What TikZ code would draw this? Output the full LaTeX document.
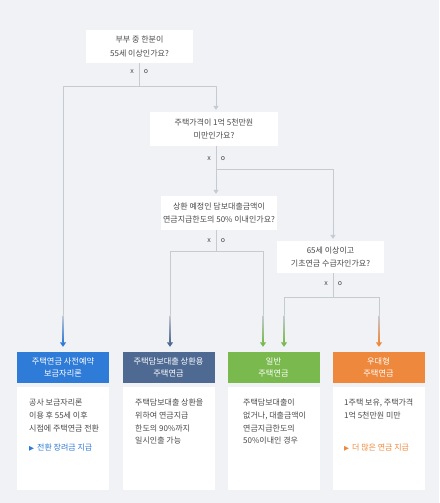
\documentclass[tikz,border=0pt]{standalone}
\usepackage{fontspec}
\setmainfont{Noto Sans CJK KR}
\newfontfamily\symf{DejaVu Sans}
\usetikzlibrary{arrows.meta,calc}
\definecolor{bg}{HTML}{F0F2F6}
\definecolor{ln}{HTML}{C6CBD2}
\definecolor{txt}{HTML}{4A4A4A}
\definecolor{cblue}{HTML}{2F7BD8}
\definecolor{cslate}{HTML}{4E6A93}
\definecolor{cgreen}{HTML}{7AB94E}
\definecolor{corange}{HTML}{EE883D}
\newcommand\fadeseg[3]{%
  \shade[top color=ln,bottom color=#2] ($(#1)+(-0.5,0)$) rectangle ($(#1)+(0.5,27)$);
  \draw[#2,line width=1pt,-{Triangle[width=6pt,length=4.5pt]},shorten >=5pt] ($(#1)+(0,26)$) -- (#3.north -| #1);}
\begin{document}
\begin{tikzpicture}[x=1pt,y=-1pt,
  qbox/.style={fill=white,inner sep=0pt,align=center,text=txt,font=\fontsize{8}{13.3}\selectfont},
  conn/.style={draw=ln,line width=1pt},
  gtip/.style={-{Triangle[width=5pt,length=4pt]},shorten >=2pt},
  lab/.style={text=txt,font=\fontsize{7}{7}\selectfont,inner sep=0pt},
  hbox/.style={inner sep=0pt,minimum width=92pt,minimum height=31pt,align=center,text=white,font=\fontsize{8.2}{11.5}\selectfont},
  bodytxt/.style={anchor=north west,inner sep=0pt,align=left,text=txt,font=\fontsize{8}{12.7}\selectfont},
  linktxt/.style={anchor=west,inner sep=0pt,font=\fontsize{8}{9}\selectfont}]
\fill[bg] (0,0) rectangle (439,503);
\useasboundingbox (0,0) rectangle (439,503);

% question boxes
\node[qbox,minimum width=107pt,minimum height=33pt] (q1) at (139.5,46.5) {부부 중 한분이\\55세 이상인가요?};
\node[qbox,minimum width=128pt,minimum height=34pt] (q2) at (214,129) {주택가격이 1억 5천만원\\미만인가요?};
\node[qbox,minimum width=116pt,minimum height=34pt] (q3) at (219,213) {상환 예정인 담보대출금액이\\연금지급한도의 50\% 이내인가요?};
\node[qbox,minimum width=107pt,minimum height=32pt] (q4) at (330.5,257) {65세 이상이고\\기초연금 수급자인가요?};

% x / o labels
\node[lab] (x1) at (132,72) {x}; \node[lab] (o1) at (146,72) {o};
\node[lab] (x2) at (209,159) {x}; \node[lab] (o2) at (223,159) {o};
\node[lab] (x3) at (209,241) {x}; \node[lab] (o3) at (223,241) {o};
\node[lab] (x4) at (326,284) {x}; \node[lab] (o4) at (340,284) {o};

% card headers
\node[hbox,fill=cblue] (c1) at (63,367.5) {주택연금 사전예약\\보금자리론};
\node[hbox,fill=cslate] (c2) at (168.5,367.5) {주택담보대출 상환용\\주택연금};
\node[hbox,fill=cgreen] (c3) at (273.5,367.5) {일반\\주택연금};
\node[hbox,fill=corange] (c4) at (378.5,367.5) {우대형\\주택연금};

% card bodies
\fill[white] (17,387) rectangle (109,490);
\fill[white] (122.5,387) rectangle (214.5,490);
\fill[white] (227.5,387) rectangle (319.5,490);
\fill[white] (332.5,387) rectangle (424.5,490);

\node[bodytxt] (t1) at (29,399) {공사 보금자리론\\이용 후 55세 이후\\시점에 주택연금 전환};
\node[linktxt,text=cblue] (l1) at (29,448) {{\symf\fontsize{6.5}{7}\selectfont ▶}\hspace{3pt}전환 장려금 지급};
\node[bodytxt] (t2) at (135,399) {주택담보대출 상환을\\위하여 연금지급\\한도의 90\%까지\\일시인출 가능};
\node[bodytxt] (t3) at (243,399) {주택담보대출이\\없거나, 대출금액이\\연금지급한도의\\50\%이내인 경우};
\node[bodytxt] (t4) at (344,399) {1주택 보유, 주택가격\\1억 5천만원 미만};
\node[linktxt,text=corange] (l4) at (344,448) {{\symf\fontsize{6.5}{7}\selectfont ▶}\hspace{3pt}더 많은 연금 지급};

% junction coordinates
\coordinate (j1) at (139,86); \coordinate (j1l) at (63,86); \coordinate (j1r) at (216,86);
\coordinate (j2) at (216,169); \coordinate (j2r) at (333,169);
\coordinate (j3) at (216,251); \coordinate (j3l) at (170,251); \coordinate (j3r) at (263,251);
\coordinate (j4) at (333,297); \coordinate (j4l) at (284,297); \coordinate (j4r) at (379,297);
\coordinate (f1) at (63,315); \coordinate (f2) at (170,315); \coordinate (f3) at (263,315);
\coordinate (f4) at (284,315); \coordinate (f5) at (379,315);

% connectors
\draw[conn] (q1.south -| j1) -- (j1);
\draw[conn] (j1l) -- (j1r);
\draw[conn,gtip,ln] (j1r) -- (q2.north -| j1r);
\draw[conn] (j1l) -- (f1);

\draw[conn,gtip,ln] (q2.south -| j2) -- (q3.north -| j2);
\draw[conn,gtip,ln] (j2) -- (j2r) -- (q4.north -| j2r);

\draw[conn] (q3.south -| j3) -- (j3);
\draw[conn] (j3l) -- (j3r);
\draw[conn] (j3l) -- (f2);
\draw[conn] (j3r) -- (f3);

\draw[conn] (q4.south -| j4) -- (j4);
\draw[conn] (j4l) -- (j4r);
\draw[conn] (j4l) -- (f4);
\draw[conn] (j4r) -- (f5);

\fadeseg{f1}{cblue}{c1}
\fadeseg{f2}{cslate}{c2}
\fadeseg{f3}{cgreen}{c3}
\fadeseg{f4}{cgreen}{c3}
\fadeseg{f5}{corange}{c4}
\end{tikzpicture}
\end{document}
